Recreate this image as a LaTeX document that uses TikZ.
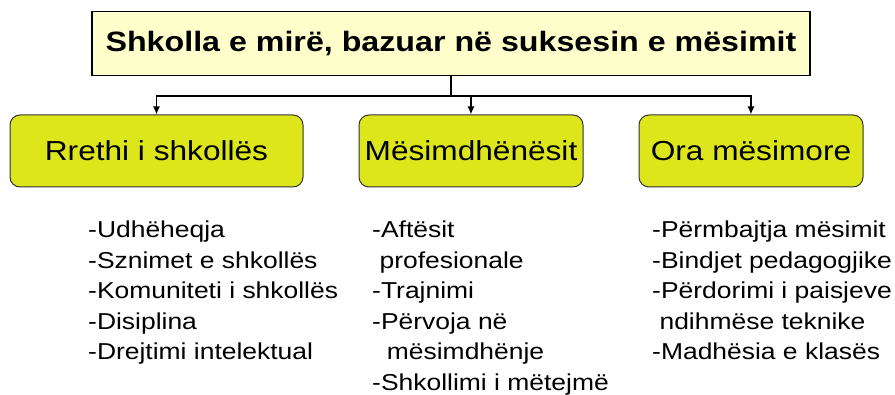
\documentclass[tikz,border=0pt]{standalone}
\usepackage{fontspec}
\setmainfont{Liberation Sans}[FakeStretch=1.15]
\usetikzlibrary{arrows.meta}
\definecolor{titleyellow}{HTML}{FFFFCC}
\definecolor{boxlime}{HTML}{DDE61A}
\tikzset{
	ttl/.style={draw, line width=1.3pt, fill=titleyellow, minimum width=718pt, minimum height=64pt, inner sep=0pt, font=\fontsize{28}{32}\selectfont\bfseries},
	grp/.style={draw=black!80, line width=1pt, fill=boxlime, rounded corners=10pt, minimum height=72pt, inner sep=0pt, font=\fontsize{27.5}{32}\selectfont},
	lst/.style={anchor=north west, inner sep=0pt, align=left, font=\fontsize{23}{30.5}\selectfont},
	arr/.style={-{Latex[length=8pt,width=7pt]}, line width=1.5pt},
}
\begin{document}
\begin{tikzpicture}[x=1pt,y=-1pt]
	\useasboundingbox (0,0) rectangle (895,395);

	\node[ttl] (top) at (451,43.5) {Shkolla e mirë, bazuar në suksesin e mësimit};

	\node[grp, minimum width=293pt] (rr) at (156.5,151) {Rrethi i shkollës};
	\node[grp, minimum width=224pt] (ms) at (471,151) {Mësimdhënësit};
	\node[grp, minimum width=224pt] (om) at (751,151) {Ora mësimore};

	\draw[line width=1.5pt] (top.south) -- (451,96) coordinate (j);
	\draw[arr] (j) -| (rr.north);
	\draw[arr] (j) -| (ms.north);
	\draw[arr] (j) -| (om.north);

	\node[lst] (l1) at (88,221) {-Udhëheqja\\-Sznimet e shkollës\\-Komuniteti i shkollës\\-Disiplina\\-Drejtimi intelektual};
	\node[lst] (l2) at (372,221) {-Aftësit\\~profesionale\\-Trajnimi\\-Përvoja në\\~~mësimdhënje\\-Shkollimi i mëtejmë};
	\node[lst] (l3) at (652,221) {-Përmbajtja mësimit\\-Bindjet pedagogjike\\-Përdorimi i paisjeve\\~ndihmëse teknike\\-Madhësia e klasës};
\end{tikzpicture}
\end{document}
